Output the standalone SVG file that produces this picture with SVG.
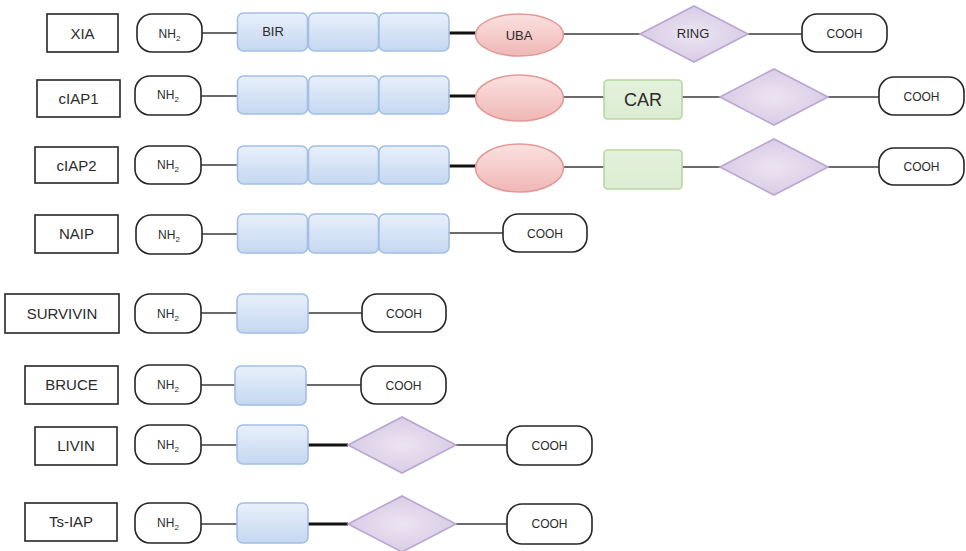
<svg xmlns="http://www.w3.org/2000/svg" width="966" height="551" viewBox="0 0 966 551">
  <defs>
    <linearGradient id="gBir" x1="0" y1="0" x2="0" y2="1">
      <stop offset="0" stop-color="#e9f0fb"/>
      <stop offset="1" stop-color="#c5d7f1"/>
    </linearGradient>
    <linearGradient id="gUba" x1="0" y1="0" x2="0" y2="1">
      <stop offset="0" stop-color="#fbe1e0"/>
      <stop offset="1" stop-color="#efb7b6"/>
    </linearGradient>
    <radialGradient id="gRing" cx="0.5" cy="0.5" r="0.6">
      <stop offset="0" stop-color="#ece4f2"/>
      <stop offset="1" stop-color="#d5c8e3"/>
    </radialGradient>
    <linearGradient id="gCar" x1="0" y1="0" x2="0" y2="1">
      <stop offset="0" stop-color="#e4f1dc"/>
      <stop offset="1" stop-color="#dcedd2"/>
    </linearGradient>
  </defs>
  <style>
    .lbl { fill: #ffffff; stroke: #262626; stroke-width: 1.6; }
    .pill { fill: #ffffff; stroke: #262626; stroke-width: 1.6; }
    .bir { fill: url(#gBir); stroke: #a3bfe6; stroke-width: 1.6; }
    .uba { fill: url(#gUba); stroke: #e29a98; stroke-width: 1.6; }
    .ring { fill: url(#gRing); stroke: #bba6d3; stroke-width: 1.6; }
    .car { fill: url(#gCar); stroke: #b6d99f; stroke-width: 1.6; }
    .thin { stroke: #3a3a3a; stroke-width: 1.5; fill: none; }
    .thick { stroke: #111111; stroke-width: 3; fill: none; }
    text { font-family: "Liberation Sans", Arial, sans-serif; fill: #2b2b2b; text-anchor: middle; }
    .t-lbl { font-size: 15px; }
    .t-end { font-size: 12px; }
    .t-sub { font-size: 8px; }
    .t-dom { font-size: 13px; }
    .t-car { font-size: 18px; }
  </style>

  <!-- backbone connectors between domains -->
  <g id="connectors">
    <!-- XIA -->
    <line class="thin" x1="202" y1="33" x2="237" y2="33"/>
    <line class="thick" x1="449" y1="33" x2="476" y2="33"/>
    <line class="thin" x1="563" y1="34" x2="640" y2="34"/>
    <line class="thin" x1="748" y1="34" x2="802" y2="34"/>
    <!-- cIAP1 -->
    <line class="thin" x1="201" y1="96" x2="237" y2="96"/>
    <line class="thick" x1="449" y1="96" x2="476" y2="96"/>
    <line class="thin" x1="563" y1="97" x2="604" y2="97"/>
    <line class="thin" x1="682" y1="97" x2="720" y2="97"/>
    <line class="thin" x1="828" y1="97" x2="879" y2="97"/>
    <!-- cIAP2 -->
    <line class="thin" x1="201" y1="165" x2="237" y2="165"/>
    <line class="thick" x1="449" y1="166" x2="476" y2="166"/>
    <line class="thin" x1="563" y1="167" x2="604" y2="167"/>
    <line class="thin" x1="682" y1="167" x2="720" y2="167"/>
    <line class="thin" x1="828" y1="167" x2="879" y2="167"/>
    <!-- NAIP -->
    <line class="thin" x1="202" y1="234" x2="237" y2="234"/>
    <line class="thin" x1="449" y1="233" x2="503" y2="233"/>
    <!-- SURVIVIN -->
    <line class="thin" x1="201" y1="313" x2="237" y2="313"/>
    <line class="thin" x1="308" y1="313" x2="362" y2="313"/>
    <!-- BRUCE -->
    <line class="thin" x1="201" y1="385" x2="235" y2="385"/>
    <line class="thin" x1="306" y1="385" x2="361" y2="385"/>
    <!-- LIVIN -->
    <line class="thin" x1="201" y1="445" x2="237" y2="445"/>
    <line class="thick" x1="308" y1="445" x2="348" y2="445"/>
    <line class="thin" x1="456" y1="445" x2="507" y2="445"/>
    <!-- Ts-IAP -->
    <line class="thin" x1="201" y1="524" x2="237" y2="524"/>
    <line class="thick" x1="308" y1="524" x2="348" y2="524"/>
    <line class="thin" x1="456" y1="524" x2="507" y2="524"/>
  </g>

  <!-- XIA -->
  <g id="xia-label"><rect class="lbl" x="47" y="14" width="71" height="38"/><text class="t-lbl" x="82.5" y="38.5">XIA</text></g>
  <g id="xia-nh2"><rect class="pill" x="137" y="14" width="65" height="38" rx="15"/><text class="t-end" x="169.5" y="37.5">NH<tspan class="t-sub" dy="3">2</tspan></text></g>
  <g id="xia-bir1"><rect class="bir" x="237.5" y="13" width="70" height="38" rx="6"/><text class="t-dom" x="273" y="36">BIR</text></g>
  <g id="xia-bir2"><rect class="bir" x="308.5" y="13" width="70" height="38" rx="6"/></g>
  <g id="xia-bir3"><rect class="bir" x="379" y="13" width="70" height="38" rx="6"/></g>
  <g id="xia-uba"><ellipse class="uba" cx="519.5" cy="35" rx="44" ry="21"/><text class="t-dom" x="519" y="39.5">UBA</text></g>
  <g id="xia-ring"><polygon class="ring" points="640,34 694,6 748,34 694,62"/><text class="t-dom" x="693" y="37.5">RING</text></g>
  <g id="xia-cooh"><rect class="pill" x="802" y="14" width="85" height="38" rx="15"/><text class="t-end" x="844.5" y="37.5">COOH</text></g>

  <!-- cIAP1 -->
  <g id="ciap1-label"><rect class="lbl" x="37" y="80" width="83" height="37"/><text class="t-lbl" x="78.5" y="104">cIAP1</text></g>
  <g id="ciap1-nh2"><rect class="pill" x="135" y="76" width="66" height="39" rx="15"/><text class="t-end" x="168" y="99">NH<tspan class="t-sub" dy="3">2</tspan></text></g>
  <g id="ciap1-bir1"><rect class="bir" x="237.5" y="76" width="70" height="38" rx="6"/></g>
  <g id="ciap1-bir2"><rect class="bir" x="308.5" y="76" width="70" height="38" rx="6"/></g>
  <g id="ciap1-bir3"><rect class="bir" x="379" y="76" width="70" height="38" rx="6"/></g>
  <g id="ciap1-uba"><ellipse class="uba" cx="519.5" cy="98" rx="44" ry="23"/></g>
  <g id="ciap1-car"><rect class="car" x="604" y="80" width="78" height="39" rx="4"/><text class="t-car" x="643" y="106">CAR</text></g>
  <g id="ciap1-ring"><polygon class="ring" points="720,97 774,69 828,97 774,125"/></g>
  <g id="ciap1-cooh"><rect class="pill" x="879" y="77" width="85" height="38" rx="15"/><text class="t-end" x="921.5" y="100.5">COOH</text></g>

  <!-- cIAP2 -->
  <g id="ciap2-label"><rect class="lbl" x="35" y="147" width="83" height="36"/><text class="t-lbl" x="76.5" y="170.5">cIAP2</text></g>
  <g id="ciap2-nh2"><rect class="pill" x="135" y="146" width="66" height="38" rx="15"/><text class="t-end" x="168" y="169">NH<tspan class="t-sub" dy="3">2</tspan></text></g>
  <g id="ciap2-bir1"><rect class="bir" x="237.5" y="146" width="70" height="38" rx="6"/></g>
  <g id="ciap2-bir2"><rect class="bir" x="308.5" y="146" width="70" height="38" rx="6"/></g>
  <g id="ciap2-bir3"><rect class="bir" x="379" y="146" width="70" height="38" rx="6"/></g>
  <g id="ciap2-uba"><ellipse class="uba" cx="519.5" cy="168" rx="44" ry="24"/></g>
  <g id="ciap2-car"><rect class="car" x="604" y="150" width="78" height="39" rx="4"/></g>
  <g id="ciap2-ring"><polygon class="ring" points="720,167 774,139 828,167 774,195"/></g>
  <g id="ciap2-cooh"><rect class="pill" x="879" y="148" width="85" height="37" rx="15"/><text class="t-end" x="921.5" y="171">COOH</text></g>

  <!-- NAIP -->
  <g id="naip-label"><rect class="lbl" x="35" y="215" width="83" height="38"/><text class="t-lbl" x="76.5" y="239">NAIP</text></g>
  <g id="naip-nh2"><rect class="pill" x="136" y="215" width="66" height="39" rx="15"/><text class="t-end" x="169" y="238.5">NH<tspan class="t-sub" dy="3">2</tspan></text></g>
  <g id="naip-bir1"><rect class="bir" x="237.5" y="214" width="70" height="39" rx="6"/></g>
  <g id="naip-bir2"><rect class="bir" x="308.5" y="214" width="70" height="39" rx="6"/></g>
  <g id="naip-bir3"><rect class="bir" x="379" y="214" width="70" height="39" rx="6"/></g>
  <g id="naip-cooh"><rect class="pill" x="503" y="214" width="84" height="38" rx="15"/><text class="t-end" x="545" y="237.5">COOH</text></g>

  <!-- SURVIVIN -->
  <g id="survivin-label"><rect class="lbl" x="5" y="294" width="114" height="39"/><text class="t-lbl" x="62" y="318.5">SURVIVIN</text></g>
  <g id="survivin-nh2"><rect class="pill" x="135" y="294" width="66" height="39" rx="15"/><text class="t-end" x="168" y="317.5">NH<tspan class="t-sub" dy="3">2</tspan></text></g>
  <g id="survivin-bir"><rect class="bir" x="237" y="294" width="71" height="39" rx="6"/></g>
  <g id="survivin-cooh"><rect class="pill" x="362" y="294" width="84" height="38" rx="15"/><text class="t-end" x="404" y="317.5">COOH</text></g>

  <!-- BRUCE -->
  <g id="bruce-label"><rect class="lbl" x="25" y="366" width="93" height="38"/><text class="t-lbl" x="71.5" y="390">BRUCE</text></g>
  <g id="bruce-nh2"><rect class="pill" x="135" y="365" width="66" height="39" rx="15"/><text class="t-end" x="168" y="388.5">NH<tspan class="t-sub" dy="3">2</tspan></text></g>
  <g id="bruce-bir"><rect class="bir" x="235" y="366" width="71" height="39" rx="6"/></g>
  <g id="bruce-cooh"><rect class="pill" x="361" y="366" width="85" height="38" rx="15"/><text class="t-end" x="403.5" y="389.5">COOH</text></g>

  <!-- LIVIN -->
  <g id="livin-label"><rect class="lbl" x="35" y="427" width="82" height="38"/><text class="t-lbl" x="76" y="451">LIVIN</text></g>
  <g id="livin-nh2"><rect class="pill" x="135" y="425" width="66" height="39" rx="15"/><text class="t-end" x="168" y="448.5">NH<tspan class="t-sub" dy="3">2</tspan></text></g>
  <g id="livin-bir"><rect class="bir" x="237" y="425" width="71" height="39" rx="6"/></g>
  <g id="livin-ring"><polygon class="ring" points="348,445 402,417 456,445 402,473"/></g>
  <g id="livin-cooh"><rect class="pill" x="507" y="426" width="85" height="39" rx="15"/><text class="t-end" x="549.5" y="450">COOH</text></g>

  <!-- Ts-IAP -->
  <g id="tsiap-label"><rect class="lbl" x="25" y="503" width="92" height="38"/><text class="t-lbl" x="71" y="527">Ts-IAP</text></g>
  <g id="tsiap-nh2"><rect class="pill" x="135" y="503" width="66" height="40" rx="15"/><text class="t-end" x="168" y="527">NH<tspan class="t-sub" dy="3">2</tspan></text></g>
  <g id="tsiap-bir"><rect class="bir" x="237" y="503" width="71" height="40" rx="6"/></g>
  <g id="tsiap-ring"><polygon class="ring" points="348,524 402,496 456,524 402,552"/></g>
  <g id="tsiap-cooh"><rect class="pill" x="507" y="504" width="85" height="40" rx="15"/><text class="t-end" x="549.5" y="528">COOH</text></g>
</svg>
